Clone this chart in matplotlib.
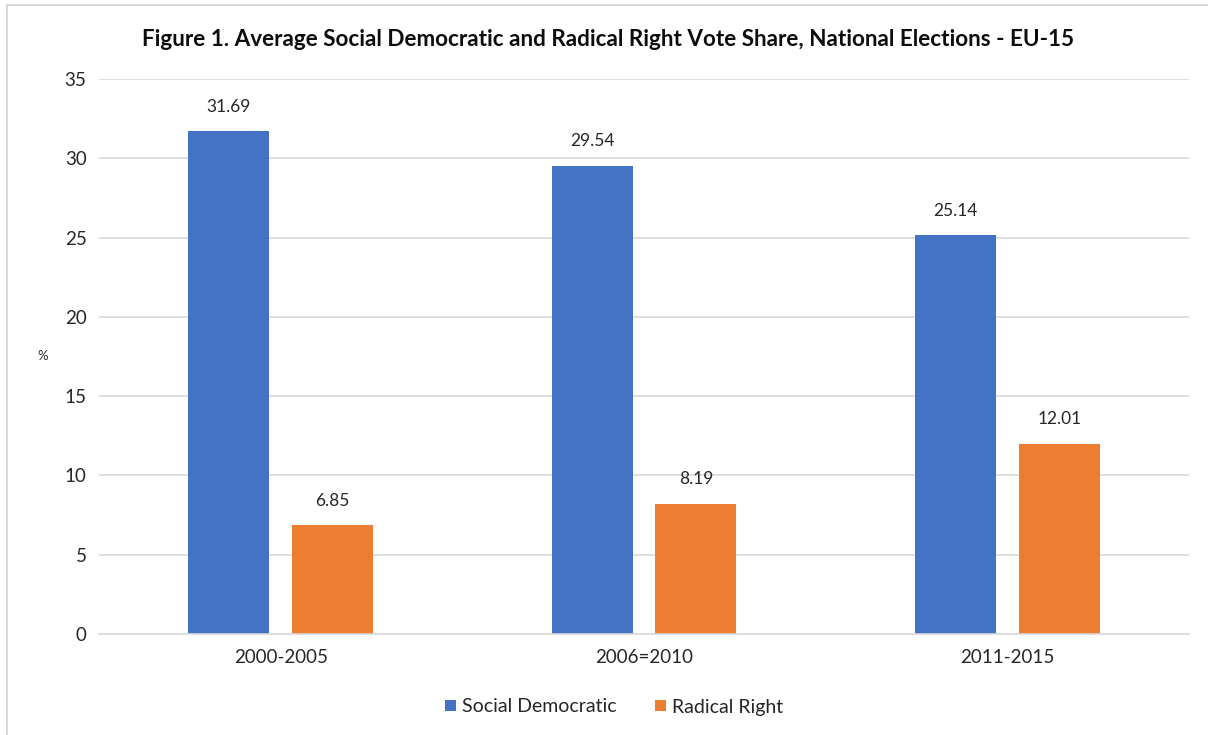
import matplotlib
matplotlib.use("Agg")
import matplotlib.pyplot as plt
import numpy as np
from matplotlib.patches import Rectangle

periods = ["2000-2005", "2006=2010", "2011-2015"]
social_dem = [31.69, 29.54, 25.14]
radical_right = [6.85, 8.19, 12.01]

blue = "#4472C4"
orange = "#ED7D31"
plt.rcParams["font.family"] = ["Lato", "DejaVu Sans"]

fig = plt.figure(figsize=(12.08, 7.35), dpi=100)
ax = fig.add_axes([99 / 1208, 1 - 634 / 735, 1090 / 1208, 555 / 735])

# light frame around the whole chart
fig.patches.append(Rectangle((7 / 1208, -0.01), 1.1, 1 - 5 / 735 + 0.01,
                             transform=fig.transFigure, fill=False,
                             edgecolor="#d9d9d9", lw=1.5))

x = np.arange(len(periods))
w = 0.223
off = 0.143
b1 = ax.bar(x - off, social_dem, w, color=blue, label="Social Democratic")
b2 = ax.bar(x + off, radical_right, w, color=orange, label="Radical Right")
for bars, vals in ((b1, social_dem), (b2, radical_right)):
    for r, v in zip(bars, vals):
        ax.text(r.get_x() + r.get_width() / 2, v + 1.05, f"{v:.2f}",
                ha="center", va="bottom", fontsize=12.5, color="#262626")

ax.set_xlim(-0.5, 2.5)
ax.set_ylim(0, 35)
ax.set_yticks(range(0, 36, 5))
ax.set_xticks(x)
ax.set_xticklabels(periods)
ax.tick_params(length=0, labelsize=13.5, colors="#262626")
ax.tick_params(axis="y", pad=9)
ax.tick_params(axis="x", pad=11)
ax.grid(axis="y", color="#d9d9d9", lw=1.2)
ax.set_axisbelow(True)
for s in ["top", "right", "left"]:
    ax.spines[s].set_visible(False)
ax.spines["bottom"].set_color("#d9d9d9")
ax.spines["bottom"].set_linewidth(1.2)

ax.set_ylabel("%", rotation=0, fontsize=9.5, color="#262626")
ax.yaxis.set_label_coords(-0.052, 0.49)

fig.text(0.503, 1 - 40 / 735, "Figure 1. Average Social Democratic and Radical Right Vote Share, National Elections - EU-15",
         ha="center", va="center", fontsize=16.2, fontweight="bold", color="#0d0d0d")

fig.legend(loc="center", bbox_to_anchor=(614 / 1208, 1 - 707 / 735), ncol=2,
           frameon=False, fontsize=14, handlelength=0.55, handleheight=0.55,
           handletextpad=0.3, columnspacing=2.0, labelcolor="#262626")

fig.savefig("out.png", dpi=100)
